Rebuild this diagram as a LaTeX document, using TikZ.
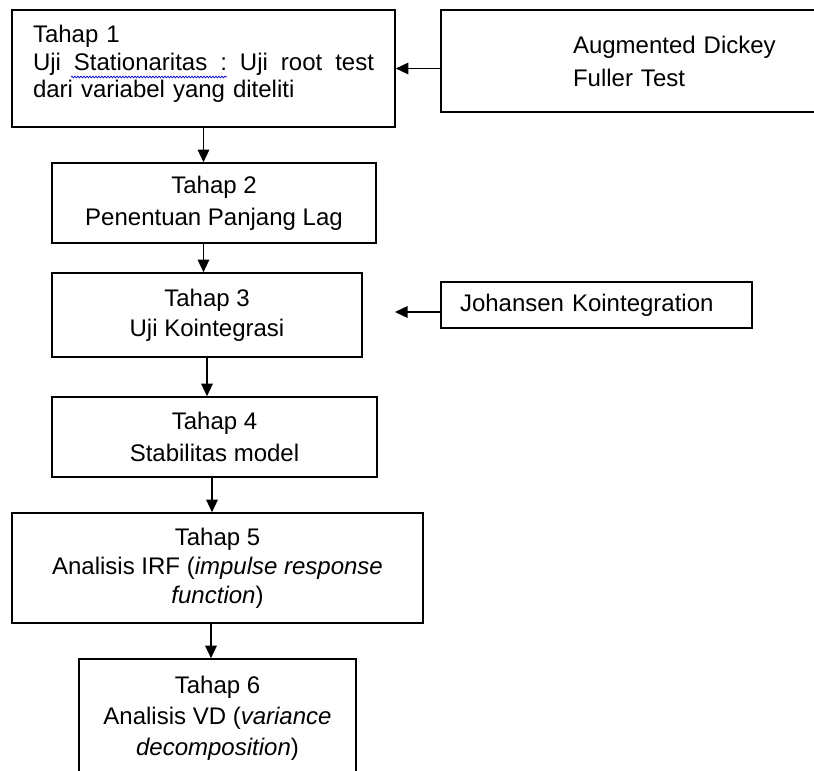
\documentclass[tikz,border=0pt]{standalone}
\usepackage{fontspec}
\setmainfont{Liberation Sans}
\usetikzlibrary{arrows.meta,decorations.pathmorphing,calc}
\tikzset{
  box/.style={draw, line width=1.6pt, inner sep=0pt},
  arr/.style={-{Triangle[length=12.5pt,width=11.5pt]}, line width=1.4pt},
  fs/.style={font=\fontsize{24pt}{#1}\selectfont},
}
\begin{document}
\begin{tikzpicture}[x=1pt,y=-1pt]
\useasboundingbox (0,0) rectangle (814,771);
\clip (0,0) rectangle (814,771);
% boxes
\node[box, fs=27.3pt, minimum width=383pt, minimum height=117pt, text width=341pt, align=left] (b1) at (203.5,68.5)
  {Tahap 1\\Uji\hfill Stationaritas\hfill :\hfill Uji\hfill root\hfill test\\dari variabel yang diteliti\rule[-14pt]{0pt}{14pt}};
\node[box, fs=33pt, minimum width=479pt, minimum height=102pt, text width=215pt, align=left] (adf) at (680.5,61)
  {Augmented Dickey\\Fuller Test};
\node[box, fs=32pt, minimum width=324pt, minimum height=80pt, align=center] (b2) at (214,203)
  {Tahap 2\\Penentuan Panjang Lag};
\node[box, fs=30pt, minimum width=310pt, minimum height=84pt, align=center] (b3) at (207,315)
  {Tahap 3\\Uji Kointegrasi};
\node[box, fs=24pt, minimum width=311pt, minimum height=46pt, text width=273pt, align=left] (jk) at (596.5,305)
  {Johansen Kointegration};
\node[box, fs=32pt, minimum width=325pt, minimum height=80pt, align=center] (b4) at (214.5,437)
  {Tahap 4\\Stabilitas model};
\node[box, fs=29pt, minimum width=411pt, minimum height=110pt, align=center] (b5) at (217.5,568)
  {Tahap 5\\Analisis IRF (\textit{impulse response}\\\textit{function})};
\node[box, fs=31pt, minimum width=277pt, minimum height=118pt, align=center] (b6) at (217.5,718)
  {Tahap 6\\Analisis VD (\textit{variance}\\\textit{decomposition})};
% spell-check wavy underline
\draw[blue!80!black, line width=0.7pt, decorate, decoration={snake, amplitude=0.9pt, segment length=3pt}] (71,77) -- (227,77);
% connectors
\coordinate (j3) at (395,312);
\draw[arr] (adf.west |- b1.east) -- (b1.east);
\draw[arr] (b1.south) -- (b1.south |- b2.north);
\draw[arr] (b1.south |- b2.south) -- (b1.south |- b3.north);
\draw[arr] (jk.west |- j3) -- (j3);
\draw[arr] (b3.south) -- (b3.south |- b4.north);
\draw[arr] ([xshift=-2.5pt]b4.south) -- ([xshift=-2.5pt]b4.south |- b5.north);
\draw[arr] ([xshift=-6.5pt]b5.south) -- ([xshift=-6.5pt]b5.south |- b6.north);
\end{tikzpicture}
\end{document}
